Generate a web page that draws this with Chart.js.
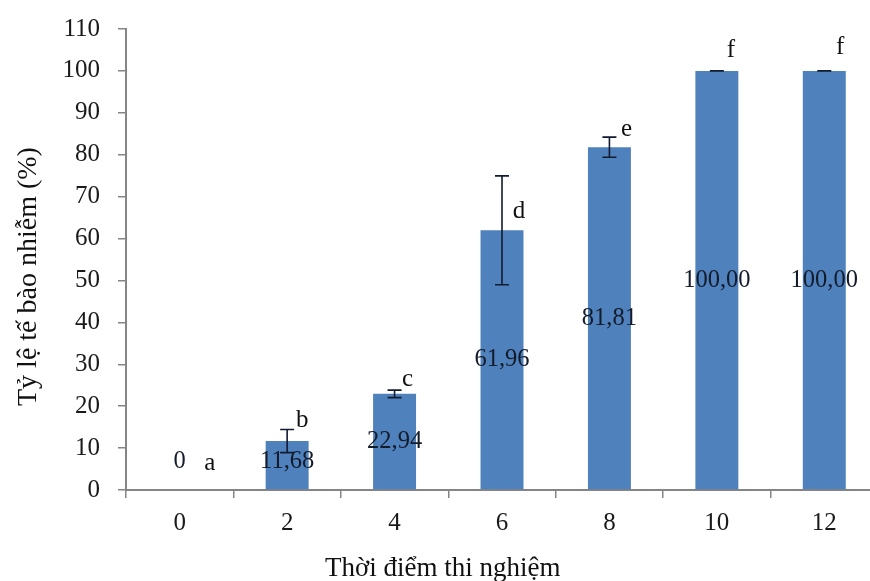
<!DOCTYPE html>
<html>
<head>
<meta charset="utf-8">
<script src="https://cdn.jsdelivr.net/npm/chart.js@4.4.1/dist/chart.umd.min.js"></script>
<style>
  html, body { margin: 0; padding: 0; background: #fff; overflow: hidden; }
  #wrap { width: 870px; height: 581px; overflow: hidden; position: relative; background: #fff; }
  #c { position: absolute; left: 0; top: 0; width: 890px; height: 581px; }
</style>
</head>
<body>
<div id="wrap"><canvas id="c" width="890" height="581"></canvas></div>
<script>
// Infection rate of cells over time (%), mean ± error, with significance groups
const categories = ['0', '2', '4', '6', '8', '10', '12'];
const infectionRate = [0, 11.68, 22.94, 61.96, 81.81, 100, 100];
const errorRange = [0, 2.75, 0.9, 13, 2.4, 0, 0];
const groupLetters = ['a', 'b', 'c', 'd', 'e', 'f', 'f'];
const yTickValues = [0, 10, 20, 30, 40, 50, 60, 70, 80, 90, 100, 110];

const SERIF = '"Liberation Serif", "Times New Roman", serif';
const AXIS_GRAY = '#858585';

function formatValue(v) {
  return v === 0 ? '0' : v.toFixed(2).replace('.', ',');
}

// Error bars, value labels inside bars and group letters
const barAnnotations = {
  id: 'barAnnotations',
  afterDatasetsDraw(chart, args, opts) {
    const ctx = chart.ctx;
    const meta = chart.getDatasetMeta(0);
    const y = chart.scales.y;
    const base = y.getPixelForValue(0);
    ctx.save();

    // error bars
    ctx.strokeStyle = opts.errorColor;
    ctx.lineWidth = 1.6;
    meta.data.forEach((bar, i) => {
      const v = infectionRate[i];
      const e = errorRange[i];
      if (v === 0) return;
      const top = y.getPixelForValue(v + e);
      const bot = y.getPixelForValue(v - e);
      const cx = bar.x;
      const half = opts.capWidth / 2;
      ctx.beginPath();
      ctx.moveTo(cx, top); ctx.lineTo(cx, bot);
      ctx.moveTo(cx - half, top); ctx.lineTo(cx + half, top);
      ctx.moveTo(cx - half, bot); ctx.lineTo(cx + half, bot);
      ctx.stroke();
    });

    // value labels, centred in each bar
    ctx.font = '24.5px ' + SERIF;
    ctx.fillStyle = opts.labelColor;
    ctx.textAlign = 'center';
    ctx.textBaseline = 'middle';
    meta.data.forEach((bar, i) => {
      const mid = (bar.y + bar.base) / 2;
      const ly = Math.min(mid, base - 28);
      ctx.fillText(formatValue(infectionRate[i]), bar.x, ly);
    });

    // significance letters beside each error bar top
    ctx.font = '25px ' + SERIF;
    ctx.fillStyle = '#111';
    ctx.textAlign = 'center';
    ctx.textBaseline = 'middle';
    meta.data.forEach((bar, i) => {
      const top = y.getPixelForValue(infectionRate[i] + errorRange[i]);
      const off = opts.letterOffsets[i];
      ctx.fillText(groupLetters[i], bar.x + off[0], top + off[1]);
    });
    ctx.restore();
  }
};

// Axis titles
const axisTitles = {
  id: 'axisTitles',
  afterDraw(chart) {
    const ctx = chart.ctx;
    ctx.save();
    ctx.fillStyle = '#111';
    ctx.textBaseline = 'alphabetic';
    ctx.textAlign = 'left';
    ctx.font = '27px ' + SERIF;
    ctx.fillText('Thời điểm thi nghiệm', 325, 576);

    ctx.font = '28px ' + SERIF;
    ctx.translate(36, 406);
    ctx.rotate(-Math.PI / 2);
    ctx.fillText('Tỷ lệ tế bào nhiễm (%)', 0, 0);
    ctx.restore();
  }
};

new Chart(document.getElementById('c'), {
  type: 'bar',
  data: {
    labels: categories,
    datasets: [{
      data: infectionRate,
      backgroundColor: '#4f81bd',
      borderWidth: 0,
      barPercentage: 0.4,
      categoryPercentage: 1.0
    }]
  },
  options: {
    responsive: false,
    animation: false,
    devicePixelRatio: 1,
    layout: { padding: { top: 29, right: 12, left: 0, bottom: 0 } },
    plugins: {
      legend: { display: false },
      tooltip: { enabled: false },
      barAnnotations: {
        errorColor: '#121b30',
        labelColor: '#141c2c',
        capWidth: 14,
        letterOffsets: [[30, -27], [15, -9], [13, -11], [17, 36], [17, -8], [14, -20], [16, -23]]
      }
    },
    scales: {
      x: {
        type: 'category',
        offset: true,
        afterFit: s => { s.height = 91; s.paddingLeft = 0; s.paddingRight = 0; },
        grid: {
          display: true,
          offset: true,
          drawOnChartArea: false,
          drawTicks: true,
          tickLength: 8,
          color: AXIS_GRAY,
          lineWidth: 1.5
        },
        border: { display: true, color: AXIS_GRAY, width: 2 },
        ticks: {
          color: '#1a1a1a',
          padding: 10,
          font: { family: SERIF, size: 25 }
        }
      },
      y: {
        min: 0,
        max: 110,
        afterFit: s => { s.width = 126; s.paddingTop = 0; s.paddingBottom = 0; },
        afterBuildTicks: s => { s.ticks = yTickValues.map(v => ({ value: v })); },
        grid: {
          display: true,
          drawOnChartArea: false,
          drawTicks: true,
          tickLength: 8,
          color: AXIS_GRAY,
          lineWidth: 1.5
        },
        border: { display: true, color: AXIS_GRAY, width: 2 },
        ticks: {
          color: '#1a1a1a',
          padding: 18,
          font: { family: SERIF, size: 25 }
        }
      }
    }
  },
  plugins: [barAnnotations, axisTitles]
});
</script>
</body>
</html>
